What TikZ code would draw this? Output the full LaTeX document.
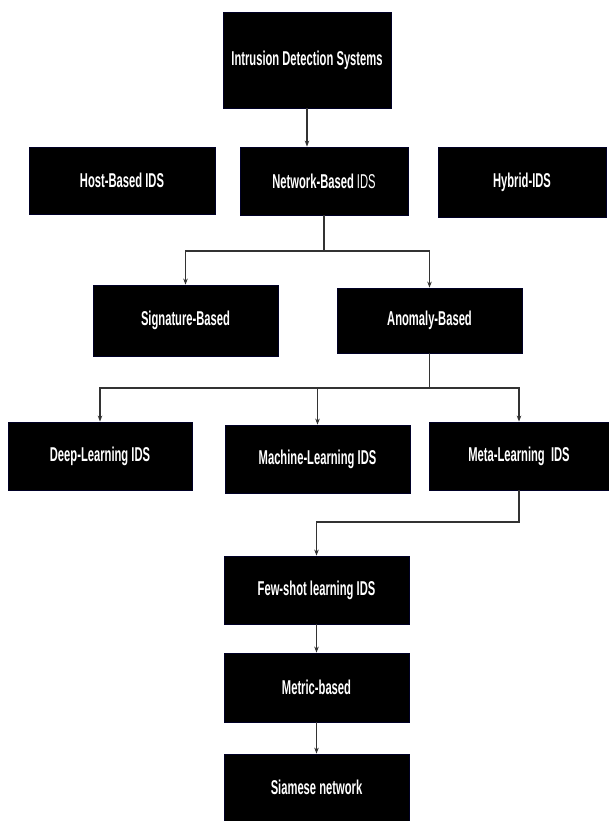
\documentclass[tikz,border=0pt]{standalone}
\usepackage{fontspec}
\setmainfont{Liberation Sans}[FakeStretch=0.56]
\usetikzlibrary{arrows.meta}
\begin{document}
\begin{tikzpicture}[x=1pt,y=-1pt,
  box/.style={draw=black!85!blue,fill=black,text=white,inner sep=0pt,font=\fontsize{20}{22}\selectfont\bfseries,line width=0.8pt},
  arr/.style={draw=black!80,line width=1.1pt,-{Stealth[length=6pt,width=4.5pt]}},
  ln/.style={draw=black!80,line width=1.1pt}]
\useasboundingbox (0,0) rectangle (609,821);
\node[box,minimum width=168pt,minimum height=96pt] (ids) at (307,60) {Intrusion Detection Systems};
\node[box,minimum width=186pt,minimum height=67pt] (host) at (122,180.5) {Host-Based IDS};
\node[box,minimum width=168pt,minimum height=68pt] (net) at (324,181) {Network-Based {\mdseries IDS}};
\node[box,minimum width=168pt,minimum height=70pt] (hyb) at (522,182) {Hybrid-IDS};
\node[box,minimum width=185pt,minimum height=71pt] (sig) at (185.5,320.5) {Signature-Based};
\node[box,minimum width=185pt,minimum height=65pt] (ano) at (429.5,320.5) {Anomaly-Based};
\node[box,minimum width=184pt,minimum height=68pt] (deep) at (100,456) {Deep-Learning IDS};
\node[box,minimum width=185pt,minimum height=68pt] (mach) at (317.5,459) {Machine-Learning IDS};
\node[box,minimum width=180pt,minimum height=68pt] (meta) at (519,456) {Meta-Learning\ \ IDS};
\node[box,minimum width=185pt,minimum height=68pt] (few) at (316.5,590) {Few-shot learning IDS};
\node[box,minimum width=185pt,minimum height=69pt] (met) at (316.5,687.5) {Metric-based};
\node[box,minimum width=185pt,minimum height=67pt] (sia) at (316.5,787.5) {Siamese network};
\coordinate (j1) at (0,251);
\coordinate (j2) at (0,388);
\coordinate (j3) at (0,522);
\draw[arr] (ids.south) -- (ids.south |- net.north);
\draw[ln] (net.south) -- (net.south |- j1);
\draw[arr] (net.south |- j1) -| (sig.north);
\draw[arr] (net.south |- j1) -| (ano.north);
\draw[ln] (ano.south) -- (ano.south |- j2);
\draw[arr] (ano.south |- j2) -| (deep.north);
\draw[arr] (ano.south |- j2) -| (mach.north);
\draw[arr] (ano.south |- j2) -| (meta.north);
\draw[arr] (meta.south) -- (meta.south |- j3) -| (few.north);
\draw[arr] (few.south) -- (met.north);
\draw[arr] (met.south) -- (sia.north);
\end{tikzpicture}
\end{document}
